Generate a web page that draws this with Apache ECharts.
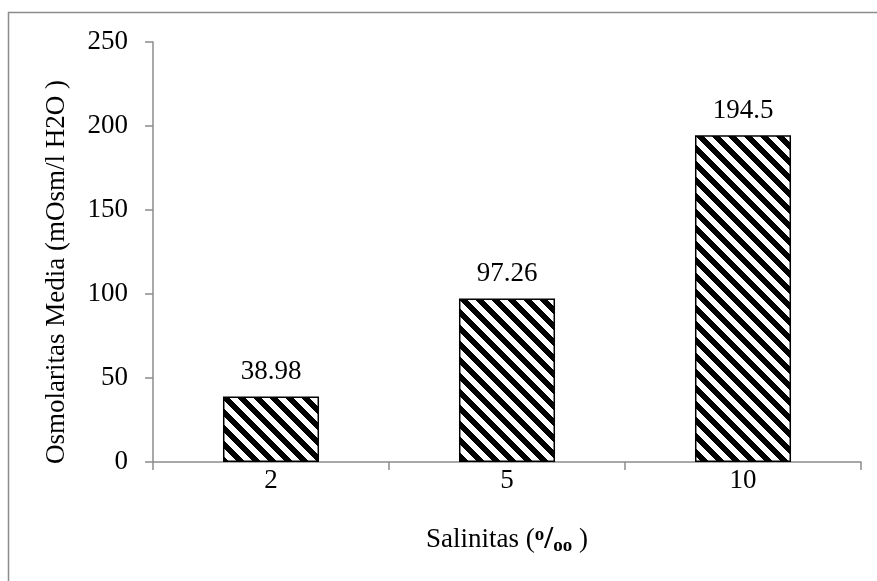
<!DOCTYPE html>
<html><head><meta charset="utf-8">
<script src="https://cdn.jsdelivr.net/npm/echarts@6/dist/echarts.min.js"></script>
<style>html,body{margin:0;padding:0;background:#fff}#c{width:877px;height:581px}</style>
</head><body><div id="c"></div>
<script>
const categories = ['2', '5', '10'];
const values = [38.98, 97.26, 194.5];
const valueLabels = ['38.98', '97.26', '194.5'];
const yTicks = [0, 50, 100, 150, 200, 250];

function makePattern() {
  const s = 16, w = 8;
  const c = document.createElement('canvas');
  c.width = s; c.height = s;
  const g = c.getContext('2d');
  const img = g.createImageData(s, s);
  for (let y = 0; y < s; y++) {
    for (let x = 0; x < s; x++) {
      const d = ((x - y) % s + s) % s;
      const v = d < w ? 0 : 255;
      const i = (y * s + x) * 4;
      img.data[i] = v; img.data[i + 1] = v; img.data[i + 2] = v; img.data[i + 3] = 255;
    }
  }
  g.putImageData(img, 0, 0);
  return c;
}

const font = 'Liberation Serif, Times New Roman, serif';
const fs = 27;
const chart = echarts.init(document.getElementById('c'));
chart.setOption({
  backgroundColor: '#fff',
  animation: false,
  grid: { left: 153, right: 16, top: 42, bottom: 119 },
  graphic: [
    { type: 'rect', shape: { x: 8.5, y: 12.5, width: 900, height: 620 }, style: { fill: 'none', stroke: '#8c8c8c', lineWidth: 1.5 }, silent: true },
    { type: 'text', x: 57, y: 272, rotation: Math.PI / 2, style: { text: 'Osmolaritas Media (mOsm/l H2O )', font: fs + 'px ' + font, fill: '#000', align: 'center', verticalAlign: 'middle' } }
  ],
  xAxis: {
    type: 'category',
    data: categories,
    axisLine: { lineStyle: { color: '#8c8c8c', width: 1.5 } },
    axisTick: { show: true, alignWithLabel: false, length: 8, lineStyle: { color: '#8c8c8c', width: 1.5 } },
    axisLabel: { color: '#000', fontFamily: font, fontSize: fs, margin: 5 },
    name: 'Salinitas ({sup|o}{sl|/}{sub|oo} )',
    nameLocation: 'middle',
    nameGap: 62,
    nameTextStyle: {
      color: '#000', fontFamily: font, fontSize: fs,
      rich: {
        sup: { fontFamily: font, fontSize: 19, fontWeight: 'bold', color: '#000', padding: [0, 0, 10, 0] },
        sl: { fontFamily: font, fontSize: 32, fontWeight: 'bold', color: '#000' },
        sub: { fontFamily: font, fontSize: 19, fontWeight: 'bold', color: '#000', padding: [12, 0, 0, 0] }
      }
    }
  },
  yAxis: {
    type: 'value',
    min: 0, max: 250, interval: 50,
    splitLine: { show: false },
    axisLine: { show: true, lineStyle: { color: '#8c8c8c', width: 1.5 } },
    axisTick: { show: true, length: 8, lineStyle: { color: '#8c8c8c', width: 1.5 } },
    axisLabel: { color: '#000', fontFamily: font, fontSize: fs, margin: 25,
      formatter: v => yTicks.includes(v) ? String(v) : '' }
  },
  series: [{
    type: 'bar',
    data: values,
    barWidth: '40.7%',
    itemStyle: { color: { image: makePattern(), repeat: 'repeat' }, borderColor: '#000', borderWidth: 1.5 },
    label: { show: true, position: 'top', distance: 11, color: '#000', fontFamily: font, fontSize: fs,
      formatter: p => valueLabels[p.dataIndex] }
  }]
});
</script></body></html>
